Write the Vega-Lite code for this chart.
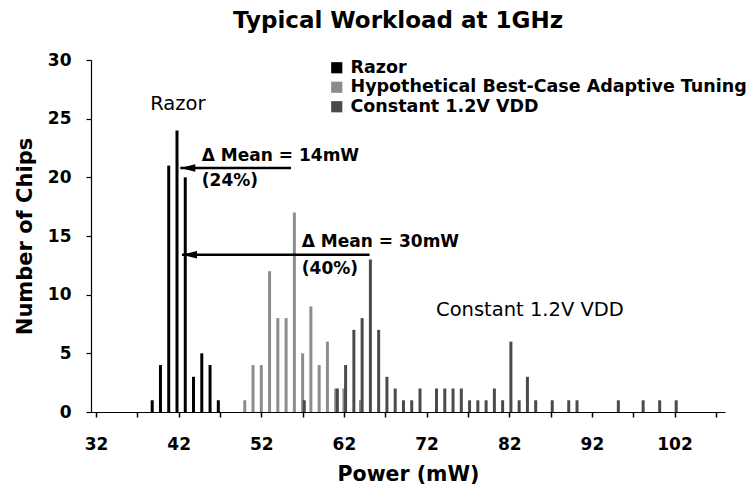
{
  "$schema": "https://vega.github.io/schema/vega-lite/v6.json",
  "width": 634,
  "height": 352,
  "autosize": {"type": "none"},
  "padding": {"left": 91, "top": 60, "right": 30, "bottom": 86},
  "background": "white",
  "config": {"view": {"stroke": null}, "font": "DejaVu Sans"},
  "title": {"text": "Typical Workload at 1GHz", "font": "DejaVu Sans", "fontSize": 23, "fontWeight": "bold", "color": "black", "offset": 18, "dx": -10, "anchor": "middle"},
  "datasets": {
    "bars": [
      {"series": "Razor", "power": 38.8, "chips": 1},
      {"series": "Razor", "power": 39.8, "chips": 4},
      {"series": "Razor", "power": 40.8, "chips": 21},
      {"series": "Razor", "power": 41.8, "chips": 24},
      {"series": "Razor", "power": 42.8, "chips": 20},
      {"series": "Razor", "power": 43.8, "chips": 3},
      {"series": "Razor", "power": 44.8, "chips": 5},
      {"series": "Razor", "power": 45.8, "chips": 4},
      {"series": "Razor", "power": 46.8, "chips": 1},
      {"series": "Hypothetical Best-Case Adaptive Tuning", "power": 50, "chips": 1},
      {"series": "Hypothetical Best-Case Adaptive Tuning", "power": 51, "chips": 4},
      {"series": "Hypothetical Best-Case Adaptive Tuning", "power": 52, "chips": 4},
      {"series": "Hypothetical Best-Case Adaptive Tuning", "power": 53, "chips": 12},
      {"series": "Hypothetical Best-Case Adaptive Tuning", "power": 54, "chips": 8},
      {"series": "Hypothetical Best-Case Adaptive Tuning", "power": 55, "chips": 8},
      {"series": "Hypothetical Best-Case Adaptive Tuning", "power": 56, "chips": 17},
      {"series": "Hypothetical Best-Case Adaptive Tuning", "power": 57, "chips": 5},
      {"series": "Hypothetical Best-Case Adaptive Tuning", "power": 58, "chips": 9},
      {"series": "Hypothetical Best-Case Adaptive Tuning", "power": 59, "chips": 4},
      {"series": "Hypothetical Best-Case Adaptive Tuning", "power": 60, "chips": 6},
      {"series": "Hypothetical Best-Case Adaptive Tuning", "power": 61, "chips": 2},
      {"series": "Hypothetical Best-Case Adaptive Tuning", "power": 62, "chips": 2},
      {"series": "Hypothetical Best-Case Adaptive Tuning", "power": 64, "chips": 1},
      {"series": "Constant 1.2V VDD", "power": 57.2, "chips": 1},
      {"series": "Constant 1.2V VDD", "power": 61.2, "chips": 2},
      {"series": "Constant 1.2V VDD", "power": 62.2, "chips": 4},
      {"series": "Constant 1.2V VDD", "power": 63.2, "chips": 7},
      {"series": "Constant 1.2V VDD", "power": 64.2, "chips": 8},
      {"series": "Constant 1.2V VDD", "power": 65.2, "chips": 13},
      {"series": "Constant 1.2V VDD", "power": 66.2, "chips": 7},
      {"series": "Constant 1.2V VDD", "power": 67.2, "chips": 3},
      {"series": "Constant 1.2V VDD", "power": 68.2, "chips": 2},
      {"series": "Constant 1.2V VDD", "power": 69.2, "chips": 1},
      {"series": "Constant 1.2V VDD", "power": 70.2, "chips": 1},
      {"series": "Constant 1.2V VDD", "power": 71.2, "chips": 2},
      {"series": "Constant 1.2V VDD", "power": 73.2, "chips": 2},
      {"series": "Constant 1.2V VDD", "power": 74.2, "chips": 2},
      {"series": "Constant 1.2V VDD", "power": 75.2, "chips": 2},
      {"series": "Constant 1.2V VDD", "power": 76.2, "chips": 2},
      {"series": "Constant 1.2V VDD", "power": 77.2, "chips": 1},
      {"series": "Constant 1.2V VDD", "power": 78.2, "chips": 1},
      {"series": "Constant 1.2V VDD", "power": 79.2, "chips": 1},
      {"series": "Constant 1.2V VDD", "power": 80.2, "chips": 2},
      {"series": "Constant 1.2V VDD", "power": 81.2, "chips": 1},
      {"series": "Constant 1.2V VDD", "power": 82.2, "chips": 6},
      {"series": "Constant 1.2V VDD", "power": 83.2, "chips": 1},
      {"series": "Constant 1.2V VDD", "power": 84.2, "chips": 3},
      {"series": "Constant 1.2V VDD", "power": 85.2, "chips": 1},
      {"series": "Constant 1.2V VDD", "power": 87.2, "chips": 1},
      {"series": "Constant 1.2V VDD", "power": 89.2, "chips": 1},
      {"series": "Constant 1.2V VDD", "power": 90.2, "chips": 1},
      {"series": "Constant 1.2V VDD", "power": 95.2, "chips": 1},
      {"series": "Constant 1.2V VDD", "power": 98.2, "chips": 1},
      {"series": "Constant 1.2V VDD", "power": 100.2, "chips": 1},
      {"series": "Constant 1.2V VDD", "power": 102.2, "chips": 1}
    ],
    "arrows": [
      {"power": 42.2, "tail": 55.6, "chips": 20.8},
      {"power": 42.4, "tail": 65.1, "chips": 13.4}
    ],
    "deltaNotes": [
      {"power": 44.8, "chips": 21.8, "label": "Δ Mean = 14mW"},
      {"power": 44.8, "chips": 19.65, "label": "(24%)"},
      {"power": 56.9, "chips": 14.45, "label": "Δ Mean = 30mW"},
      {"power": 56.9, "chips": 12.2, "label": "(40%)"}
    ],
    "seriesNotes": [
      {"power": 41.9, "chips": 26.25, "label": "Razor"},
      {"power": 84.5, "chips": 8.7, "label": "Constant 1.2V VDD"}
    ]
  },
  "encoding": {
    "x": {
      "field": "power", "type": "quantitative", "title": "Power (mW)",
      "scale": {"domain": [32, 107.5], "nice": false, "zero": false},
      "axis": {
        "values": [32, 37, 42, 47, 52, 57, 62, 67, 72, 77, 82, 87, 92, 97, 102, 107],
        "labelExpr": "(datum.value - 32) % 10 === 0 ? datum.label : ''",
        "format": "d", "grid": false, "domainColor": "black", "domainWidth": 1.2,
        "tickColor": "black", "tickSize": 5, "tickWidth": 1.5,
        "labelFont": "DejaVu Sans", "labelFontSize": 17, "labelFontWeight": "bold", "labelColor": "black",
        "labelPadding": 19, "labelFlush": false, "labelOverlap": false,
        "titleFont": "DejaVu Sans", "titleFontSize": 20.5, "titleFontWeight": "bold", "titleColor": "black", "titlePadding": 12
      }
    },
    "y": {
      "field": "chips", "type": "quantitative", "title": "Number of Chips",
      "scale": {"domain": [0, 30], "nice": false},
      "axis": {
        "values": [0, 5, 10, 15, 20, 25, 30], "grid": false, "domainColor": "black", "domainWidth": 1.2,
        "tickColor": "black", "tickSize": 5, "tickWidth": 1.2,
        "labelFont": "DejaVu Sans", "labelFontSize": 17, "labelFontWeight": "bold", "labelColor": "black",
        "labelPadding": 15,
        "titleFont": "DejaVu Sans", "titleFontSize": 21, "titleFontWeight": "bold", "titleColor": "black", "titlePadding": 12
      }
    }
  },
  "layer": [
    {
      "data": {"name": "bars"},
      "mark": {"type": "bar", "size": 3},
      "encoding": {
        "color": {
          "field": "series", "type": "nominal",
          "scale": {"domain": ["Razor", "Hypothetical Best-Case Adaptive Tuning", "Constant 1.2V VDD"], "range": ["#000000", "#8c8c8c", "#4a4a4a"]},
          "legend": {
            "orient": "none", "legendX": 237, "legendY": -1, "title": null,
            "symbolType": "square", "symbolSize": 125, "symbolStrokeWidth": 0,
            "labelFont": "DejaVu Sans", "labelFontSize": 17.5, "labelFontWeight": "bold", "labelColor": "black",
            "labelLimit": 600, "labelOffset": 5, "rowPadding": 0.5, "padding": 0
          }
        }
      }
    },
    {
      "data": {"name": "arrows"},
      "mark": {"type": "rule", "strokeWidth": 2.5, "color": "black"},
      "encoding": {"x2": {"field": "tail"}}
    },
    {
      "data": {"name": "arrows"},
      "mark": {"type": "point", "shape": "M-1,0L1,-0.5L1,0.5Z", "filled": true, "color": "black", "opacity": 1, "size": 225, "xOffset": 7.5},
      "encoding": {}
    },
    {
      "data": {"name": "deltaNotes"},
      "mark": {"type": "text", "align": "left", "baseline": "middle", "font": "DejaVu Sans", "fontSize": 17, "fontWeight": "bold", "color": "black"},
      "encoding": {"text": {"field": "label"}}
    },
    {
      "data": {"name": "seriesNotes"},
      "mark": {"type": "text", "align": "center", "baseline": "middle", "font": "DejaVu Sans", "fontSize": 19.5, "fontWeight": "normal", "color": "black"},
      "encoding": {"text": {"field": "label"}}
    }
  ]
}
